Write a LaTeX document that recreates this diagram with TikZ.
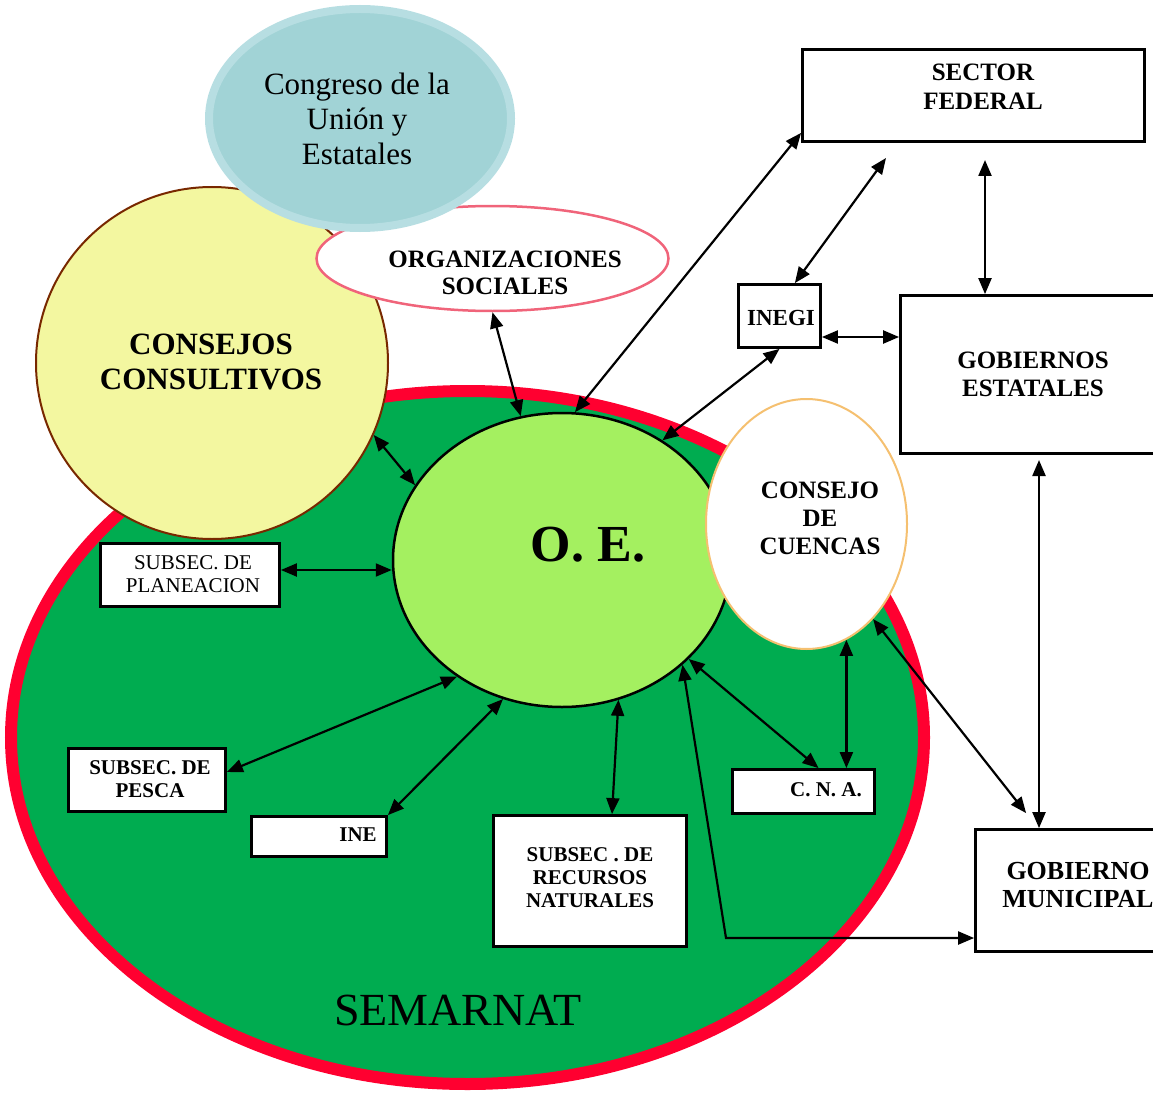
\documentclass[tikz,border=0pt]{standalone}
\usepackage{fontspec}
\setmainfont{Liberation Serif}
\usetikzlibrary{arrows.meta}
\usetikzlibrary{shapes.geometric}
\definecolor{semgreen}{RGB}{0,172,80}
\definecolor{semred}{RGB}{255,0,48}
\definecolor{consyellow}{RGB}{243,247,160}
\definecolor{consbrown}{RGB}{120,40,0}
\definecolor{congfill}{RGB}{161,211,214}
\definecolor{congdraw}{RGB}{183,222,226}
\definecolor{orgpink}{RGB}{240,100,122}
\definecolor{oegreen}{RGB}{164,240,96}
\definecolor{cuenorange}{RGB}{245,192,112}

\begin{document}
\begin{tikzpicture}[x=1pt, y=-1pt,
    box/.style={draw=black, line width=2.8pt, fill=white, inner sep=0pt},
    link/.style={{Triangle[length=16pt,width=13pt]}-{Triangle[length=16pt,width=13pt]}, line width=2.2pt},
    lbl/.style={align=center, inner sep=0pt}]
    \useasboundingbox (0,0) rectangle (1153,1094);
    \clip (0,0) rectangle (1153,1094);

    \node[ellipse, draw=semred, line width=12pt, fill=semgreen, minimum width=913pt, minimum height=693pt] (sem) at (467.5,737.5) {};
    \node[circle, draw=consbrown, line width=2pt, fill=consyellow, minimum size=352pt] (cc) at (212,363) {};
    \node[ellipse, draw=orgpink, line width=2.5pt, fill=white, minimum width=352pt, minimum height=105pt] (org) at (492.5,258.5) {};
    \node[ellipse, draw=congdraw, line width=8pt, fill=congfill, minimum width=302pt, minimum height=219pt] (cong) at (360,118.5) {};
    \node[ellipse, draw=black, line width=2.5pt, fill=oegreen, minimum width=338pt, minimum height=294pt] (oe) at (562,560) {};
    \node[ellipse, draw=cuenorange, line width=2pt, fill=white, minimum width=201pt, minimum height=250pt] (cue) at (806.5,524) {};

    \node[box, minimum width=342pt, minimum height=92pt] (sf) at (973.5,95.5) {};
    \node[box, minimum width=82pt, minimum height=63pt] (inegi) at (779.5,316) {};
    \node[box, minimum width=265pt, minimum height=158pt] (ge) at (1033,374.5) {};
    \node[box, minimum width=203pt, minimum height=122pt] (mun) at (1077,890.5) {};
    \node[box, minimum width=179pt, minimum height=63pt] (plan) at (190,575) {};
    \node[box, minimum width=157pt, minimum height=63pt] (pesca) at (147,780) {};
    \node[box, minimum width=135pt, minimum height=40pt] (ine) at (319,836.5) {};
    \node[box, minimum width=193pt, minimum height=131pt] (rec) at (590,881) {};
    \node[box, minimum width=142pt, minimum height=44pt] (cna) at (803.5,791.5) {};

    \draw[link] (oe.85) -- ([yshift=10pt]sf.south west);
    \draw[link] (oe.106) -- (org.south);
    \coordinate (sfgap) at (886,158);
    \draw[link] (inegi.65) -- (sfgap);
    \coordinate (sfge) at (985,160);
    \draw[link] (sfge) -- (sfge |- ge.north);
    \draw[link] ([yshift=-21pt]inegi.east) -- ([yshift=-21pt]inegi.east -| ge.west);
    \draw[link] (oe.50) -- (inegi.south);
    \draw[link] (cc.-24) -- (oe.153);
    \draw[link] ([yshift=5pt]plan.east) -- ([yshift=5pt]plan.east -| oe.west);
    \draw[link] ([yshift=8pt]pesca.east) -- (oe.228);
    \draw[link] (ine.north east) -- (oe.247);
    \draw[link] ([xshift=22pt]rec.north) -- (oe.-68);
    \draw[link] (oe.-38) -- ([xshift=15pt]cna.north);
    \draw[link] (cue.-71) -- (cue.-71 |- cna.north);
    \draw[link] (cue.-55) -- ([xshift=52pt,yshift=15pt]mun.north west);
    \coordinate (gm) at (1039,460);
    \draw[link] (gm) -- (gm |- mun.north);
    \coordinate (bend) at (726,938);
    \draw[link] (oe.-41) -- (bend) -- (bend -| mun.west);

    \node[lbl, font=\fontsize{31}{35}\selectfont] (congtxt) at (357,119) {Congreso de la\\Unión y\\Estatales};
    \node[lbl, font=\fontsize{31}{35}\selectfont\bfseries] (cctxt) at (211,362) {CONSEJOS\\CONSULTIVOS};
    \node[lbl, font=\fontsize{25}{27}\selectfont\bfseries] (orgtxt) at (505,273) {ORGANIZACIONES\\SOCIALES};
    \node[lbl, font=\fontsize{25}{29}\selectfont\bfseries] (sftxt) at (983,87) {SECTOR\\FEDERAL};
    \node[lbl, font=\fontsize{23}{27}\selectfont\bfseries] (inegitxt) at (781,318) {INEGI};
    \node[lbl, font=\fontsize{25}{28}\selectfont\bfseries] (getxt) at (1033,374) {GOBIERNOS\\ESTATALES};
    \node[lbl, font=\fontsize{25}{28}\selectfont\bfseries] (cuetxt) at (820,518) {CONSEJO\\DE\\CUENCAS};
    \node[lbl, font=\fontsize{52}{60}\selectfont\bfseries] (oetxt) at (588,545) {O. E.};
    \node[lbl, font=\fontsize{21}{23}\selectfont] (plantxt) at (193,574) {SUBSEC. DE\\PLANEACION};
    \node[lbl, font=\fontsize{21}{23}\selectfont\bfseries] (pescatxt) at (150,779) {SUBSEC. DE\\PESCA};
    \node[lbl, font=\fontsize{21}{23}\selectfont\bfseries] (inetxt) at (358,835) {INE};
    \node[lbl, font=\fontsize{21}{23}\selectfont\bfseries] (rectxt) at (590,878) {SUBSEC . DE\\RECURSOS\\NATURALES};
    \node[lbl, font=\fontsize{21}{23}\selectfont\bfseries] (cnatxt) at (826,790) {C. N. A.};
    \node[lbl, font=\fontsize{26}{28}\selectfont\bfseries] (muntxt) at (1078,885) {GOBIERNO\\MUNICIPAL};
    \node[lbl, font=\fontsize{46}{52}\selectfont] (semtxt) at (458,1010) {SEMARNAT};
\end{tikzpicture}
\end{document}
